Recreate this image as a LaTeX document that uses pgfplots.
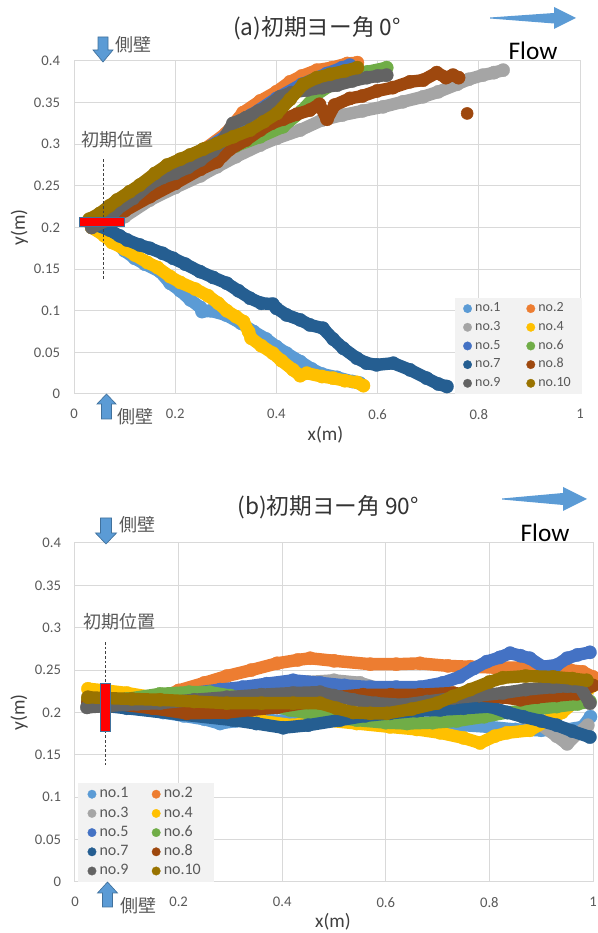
\documentclass[border=0pt]{standalone}
\usepackage{pgfplots}
\pgfplotsset{compat=1.18}
\usepackage{fontspec}
\setmainfont{Carlito}
\newfontfamily\jp{Noto Sans CJK JP}
\definecolor{c1}{HTML}{5B9BD5}
\definecolor{c2}{HTML}{ED7D31}
\definecolor{c3}{HTML}{A5A5A5}
\definecolor{c4}{HTML}{FFC000}
\definecolor{c5}{HTML}{4472C4}
\definecolor{c6}{HTML}{70AD47}
\definecolor{c7}{HTML}{255E91}
\definecolor{c8}{HTML}{9E480E}
\definecolor{c9}{HTML}{636363}
\definecolor{c10}{HTML}{997300}
\definecolor{gridc}{HTML}{D9D9D9}
\definecolor{txtc}{HTML}{595959}
\definecolor{labc}{HTML}{404040}
\definecolor{titc}{HTML}{333333}
\definecolor{arrowc}{HTML}{5B9BD5}
\definecolor{arrowb}{HTML}{41719C}
\definecolor{legbg}{HTML}{F2F2F2}
\pgfplotsset{
  traj/.style={draw=#1, fill=none, line width=9.3pt, line join=round, line cap=round,
    mark=*, mark size=5pt, mark options={solid, draw=#1, fill=#1, line width=0.2pt}},
  base/.style={
    scale only axis, clip=false, clip marker paths=true, anchor=south west,
    xmin=0, xmax=1, ymin=0, ymax=0.4,
    xtick={0,0.2,0.4,0.6,0.8,1},
    ytick={0,0.05,0.1,0.15,0.2,0.25,0.3,0.35,0.4},
    xticklabels={0,0.2,0.4,0.6,0.8,1},
    yticklabels={0,0.05,0.1,0.15,0.2,0.25,0.3,0.35,0.4},
    grid=major,
    major grid style={draw=gridc, line width=0.75pt},
    axis line style={draw=gridc, line width=0.75pt},
    major tick length=0pt,
    tick label style={text=txtc, font=\fontsize{11}{13}\selectfont},
    xticklabel style={yshift=-8pt},
    yticklabel style={xshift=-7pt},
    xlabel={x(m)}, ylabel={y(m)},
    label style={text=labc, font=\fontsize{14.5}{16}\selectfont},
    legend cell align=left,
    legend columns=2,
    legend image code/.code={\draw[##1, line width=0pt, line cap=butt, mark size=3.2pt, mark repeat=1, mark phase=1] plot coordinates {(0.12cm,0cm)};},
  }
}
\begin{document}
\begin{tikzpicture}
\useasboundingbox (0,0) rectangle (448.5pt,699.75pt);
% ---------------- panel (a)
\begin{axis}[base,
  at={(55.5pt,404.25pt)}, width=379.5pt, height=249.75pt,
  xlabel style={at={(axis description cs:0.497,-0.123)}, anchor=center},
  ylabel style={at={(axis description cs:-0.108,0.5)}, anchor=center},
  legend style={at={(0.753,0.288)}, anchor=north west, fill=legbg, draw=none,
    font=\fontsize{10.5}{12}\selectfont, text=txtc, inner xsep=6pt, inner ysep=0.7pt, row sep=0pt,
    /tikz/every even column/.append style={column sep=17pt},
    nodes={inner xsep=2.5pt, inner ysep=1.5pt, text height=8pt, text depth=3pt}},
]
\addplot[traj=c1] coordinates {(0.035,0.205) (0.06,0.196) (0.08,0.185) (0.1,0.172) (0.12,0.163) (0.14,0.156) (0.17,0.147) (0.19,0.133) (0.21,0.124) (0.23,0.113) (0.25,0.104) (0.253,0.099) (0.27,0.1) (0.3,0.095) (0.33,0.085) (0.355,0.075) (0.38,0.066) (0.4,0.057) (0.42,0.049) (0.447,0.039) (0.47,0.03) (0.49,0.024) (0.52,0.02) (0.55,0.015) (0.565,0.013)};
\addplot[traj=c2] coordinates {(0.035,0.208) (0.07,0.222) (0.1,0.235) (0.14,0.25) (0.18,0.265) (0.22,0.28) (0.26,0.295) (0.3,0.313) (0.334,0.338) (0.368,0.352) (0.4,0.363) (0.427,0.375) (0.45,0.382) (0.48,0.389) (0.51,0.392) (0.54,0.397) (0.56,0.398)};
\addplot[traj=c3] coordinates {(0.035,0.2) (0.07,0.205) (0.1,0.213) (0.15,0.233) (0.2,0.248) (0.25,0.262) (0.283,0.273) (0.32,0.285) (0.368,0.299) (0.4,0.307) (0.447,0.317) (0.49,0.329) (0.53,0.335) (0.57,0.34) (0.611,0.345) (0.65,0.351) (0.69,0.357) (0.72,0.363) (0.757,0.372) (0.78,0.378) (0.808,0.383) (0.83,0.386) (0.848,0.389)};
\addplot[traj=c4] coordinates {(0.035,0.2) (0.06,0.19) (0.075,0.182) (0.1,0.174) (0.12,0.167) (0.145,0.158) (0.165,0.152) (0.19,0.141) (0.21,0.134) (0.24,0.126) (0.265,0.118) (0.285,0.109) (0.302,0.1) (0.32,0.093) (0.335,0.087) (0.345,0.075) (0.35,0.067) (0.37,0.058) (0.393,0.049) (0.41,0.04) (0.433,0.029) (0.447,0.022) (0.46,0.025) (0.49,0.021) (0.512,0.019) (0.535,0.016) (0.559,0.014) (0.572,0.01)};
\addplot[traj=c5] coordinates {(0.035,0.208) (0.1,0.232) (0.2,0.27) (0.3,0.31) (0.35,0.335) (0.4,0.355) (0.45,0.372) (0.5,0.385) (0.53,0.392) (0.545,0.395)};
\addplot[traj=c6] coordinates {(0.035,0.205) (0.1,0.222) (0.15,0.24) (0.2,0.258) (0.25,0.275) (0.283,0.287) (0.32,0.298) (0.368,0.309) (0.413,0.321) (0.45,0.34) (0.48,0.36) (0.51,0.372) (0.545,0.383) (0.58,0.387) (0.618,0.392)};
\addplot[traj=c7] coordinates {(0.035,0.205) (0.07,0.197) (0.09,0.19) (0.105,0.185) (0.13,0.179) (0.15,0.175) (0.175,0.169) (0.196,0.163) (0.22,0.156) (0.249,0.147) (0.275,0.14) (0.302,0.133) (0.325,0.124) (0.348,0.115) (0.37,0.109) (0.393,0.108) (0.4,0.103) (0.42,0.095) (0.447,0.089) (0.466,0.083) (0.492,0.079) (0.512,0.066) (0.532,0.055) (0.559,0.043) (0.578,0.037) (0.598,0.035) (0.631,0.037) (0.664,0.029) (0.697,0.019) (0.72,0.012) (0.737,0.009)};
\addplot[traj=c8] coordinates {(0.035,0.205) (0.1,0.22) (0.15,0.237) (0.2,0.253) (0.25,0.27) (0.283,0.279) (0.308,0.294) (0.34,0.305) (0.368,0.317) (0.39,0.325) (0.413,0.33) (0.44,0.336) (0.466,0.341) (0.485,0.348) (0.5,0.33) (0.515,0.347) (0.545,0.355) (0.57,0.358) (0.599,0.364) (0.63,0.368) (0.664,0.375) (0.69,0.377) (0.717,0.386) (0.735,0.38) (0.749,0.383) (0.76,0.38)};
\addplot[traj=c9] coordinates {(0.035,0.2) (0.07,0.21) (0.085,0.222) (0.117,0.235) (0.15,0.252) (0.175,0.26) (0.2,0.265) (0.225,0.272) (0.25,0.281) (0.275,0.292) (0.295,0.305) (0.314,0.325) (0.34,0.332) (0.365,0.34) (0.381,0.345) (0.407,0.357) (0.43,0.362) (0.46,0.365) (0.49,0.368) (0.52,0.371) (0.55,0.376) (0.579,0.38) (0.6,0.382) (0.618,0.383)};
\addplot[traj=c10] coordinates {(0.03,0.21) (0.051,0.217) (0.07,0.226) (0.085,0.233) (0.11,0.243) (0.13,0.251) (0.16,0.265) (0.184,0.275) (0.21,0.282) (0.229,0.287) (0.255,0.294) (0.283,0.301) (0.315,0.309) (0.348,0.317) (0.375,0.327) (0.401,0.337) (0.427,0.354) (0.453,0.372) (0.48,0.38) (0.506,0.384) (0.535,0.388) (0.56,0.392)};
\addplot[c8, only marks, mark=*, mark size=4.5pt, forget plot] coordinates {(0.777,0.337)};
\draw[dash pattern=on 2pt off 1.5pt, line width=0.5pt, black!75] (axis cs:0.057,0.282) -- (axis cs:0.057,0.138);
\filldraw[fill=red, draw=arrowb, line width=0.75pt] (axis cs:0.01,0.2015) rectangle (axis cs:0.1,0.2125);
\legend{no.1,no.2,no.3,no.4,no.5,no.6,no.7,no.8,no.9,no.10}
\end{axis}
% ---------------- panel (b)
\begin{axis}[base,
  at={(56.25pt,38.25pt)}, width=388.5pt, height=254.25pt,
  xlabel style={at={(axis description cs:0.498,-0.118)}, anchor=center},
  ylabel style={at={(axis description cs:-0.108,0.5)}, anchor=center},
  legend style={at={(0.006,0.292)}, anchor=north west, fill=legbg, draw=none,
    font=\fontsize{12}{13}\selectfont, text=txtc, inner xsep=7pt, inner ysep=1pt, row sep=0pt,
    /tikz/every even column/.append style={column sep=15pt},
    nodes={inner xsep=2.5pt, inner ysep=1.45pt, text height=8.5pt, text depth=3pt}},
]
\addplot[traj=c1] coordinates {(0.025,0.21) (0.07,0.208) (0.12,0.205) (0.17,0.2) (0.21,0.196) (0.25,0.192) (0.28,0.187) (0.31,0.19) (0.35,0.192) (0.4,0.19) (0.45,0.19) (0.5,0.191) (0.55,0.19) (0.6,0.188) (0.65,0.185) (0.7,0.183) (0.75,0.185) (0.8,0.183) (0.85,0.18) (0.9,0.179) (0.95,0.18) (0.98,0.183) (0.995,0.195)};
\addplot[traj=c2] coordinates {(0.025,0.215) (0.07,0.214) (0.12,0.213) (0.17,0.218) (0.2,0.226) (0.25,0.235) (0.293,0.243) (0.34,0.25) (0.39,0.258) (0.43,0.262) (0.454,0.264) (0.5,0.261) (0.57,0.257) (0.62,0.257) (0.666,0.258) (0.72,0.255) (0.763,0.254) (0.81,0.253) (0.859,0.253) (0.91,0.251) (0.956,0.25) (0.98,0.248) (1.0,0.242)};
\addplot[traj=c3] coordinates {(0.025,0.21) (0.1,0.212) (0.2,0.214) (0.3,0.218) (0.4,0.23) (0.45,0.236) (0.5,0.238) (0.55,0.235) (0.6,0.226) (0.65,0.22) (0.7,0.216) (0.75,0.212) (0.8,0.205) (0.85,0.198) (0.9,0.185) (0.93,0.172) (0.95,0.163) (0.97,0.175) (0.99,0.185)};
\addplot[traj=c4] coordinates {(0.025,0.228) (0.06,0.226) (0.1,0.223) (0.15,0.218) (0.2,0.212) (0.25,0.205) (0.3,0.198) (0.36,0.19) (0.42,0.185) (0.479,0.191) (0.544,0.187) (0.608,0.183) (0.66,0.18) (0.705,0.176) (0.75,0.17) (0.782,0.164) (0.81,0.172) (0.834,0.176) (0.878,0.179) (0.91,0.19) (0.94,0.2) (0.97,0.215) (1.0,0.232)};
\addplot[traj=c5] coordinates {(0.025,0.21) (0.1,0.213) (0.15,0.216) (0.2,0.22) (0.228,0.223) (0.28,0.227) (0.324,0.23) (0.37,0.234) (0.421,0.238) (0.473,0.235) (0.52,0.232) (0.57,0.23) (0.62,0.23) (0.666,0.23) (0.71,0.235) (0.743,0.242) (0.77,0.252) (0.795,0.26) (0.82,0.265) (0.84,0.27) (0.86,0.267) (0.878,0.264) (0.903,0.254) (0.93,0.256) (0.95,0.264) (0.97,0.268) (0.994,0.271)};
\addplot[traj=c6] coordinates {(0.025,0.215) (0.1,0.216) (0.164,0.222) (0.22,0.224) (0.26,0.224) (0.3,0.22) (0.35,0.212) (0.415,0.203) (0.48,0.196) (0.544,0.191) (0.6,0.188) (0.641,0.187) (0.69,0.188) (0.737,0.19) (0.79,0.195) (0.834,0.2) (0.88,0.203) (0.93,0.207) (0.97,0.21) (0.994,0.213)};
\addplot[traj=c7] coordinates {(0.025,0.21) (0.1,0.205) (0.2,0.198) (0.305,0.191) (0.35,0.187) (0.402,0.182) (0.45,0.185) (0.511,0.191) (0.56,0.196) (0.608,0.199) (0.66,0.202) (0.705,0.203) (0.75,0.205) (0.801,0.207) (0.835,0.2) (0.865,0.195) (0.9,0.19) (0.93,0.185) (0.96,0.178) (0.994,0.171)};
\addplot[traj=c8] coordinates {(0.025,0.212) (0.08,0.21) (0.15,0.205) (0.216,0.199) (0.293,0.2) (0.34,0.203) (0.39,0.206) (0.45,0.212) (0.5,0.218) (0.556,0.221) (0.61,0.221) (0.666,0.221) (0.73,0.223) (0.78,0.22) (0.826,0.218) (0.86,0.215) (0.892,0.218) (0.93,0.22) (0.969,0.222) (1.0,0.232)};
\addplot[traj=c9] coordinates {(0.023,0.206) (0.07,0.208) (0.12,0.21) (0.164,0.211) (0.23,0.215) (0.293,0.218) (0.36,0.221) (0.421,0.223) (0.473,0.224) (0.5,0.22) (0.537,0.215) (0.58,0.211) (0.633,0.209) (0.68,0.213) (0.73,0.217) (0.78,0.22) (0.826,0.223) (0.87,0.227) (0.923,0.23) (0.95,0.231) (0.975,0.23) (0.994,0.211)};
\addplot[traj=c10] coordinates {(0.025,0.218) (0.06,0.217) (0.11,0.216) (0.164,0.215) (0.23,0.213) (0.293,0.211) (0.36,0.211) (0.421,0.211) (0.473,0.211) (0.505,0.205) (0.537,0.2) (0.57,0.199) (0.602,0.199) (0.65,0.204) (0.699,0.211) (0.73,0.219) (0.763,0.227) (0.8,0.236) (0.826,0.241) (0.87,0.243) (0.923,0.242) (0.96,0.24) (0.988,0.238)};
\draw[dash pattern=on 2pt off 1.5pt, line width=0.5pt, black!75] (axis cs:0.058,0.283) -- (axis cs:0.058,0.138);
\filldraw[fill=red, draw=arrowb, line width=0.75pt] (axis cs:0.05,0.177) rectangle (axis cs:0.068,0.234);
\legend{no.1,no.2,no.3,no.4,no.5,no.6,no.7,no.8,no.9,no.10}
\end{axis}
% ---------------- annotations (pixel coordinates)
\begin{scope}[x=0.75pt, y=-0.75pt, shift={(0pt,699.75pt)}]
\node[font=\jp\fontsize{17}{20}\selectfont, text=titc] at (317,28) {(a)初期ヨー角 0°};
\node[font=\jp\fontsize{17}{20}\selectfont, text=titc] at (328,507) {(b)初期ヨー角 90°};
\node[font=\fontsize{19}{22}\selectfont, text=black] at (533,51) {Flow};
\node[font=\fontsize{19}{22}\selectfont, text=black] at (545,533) {Flow};
\fill[arrowc] (490,17.5) -- (554,13) -- (554,7) -- (576,18) -- (554,29) -- (554,23.5) -- (490,18.5) -- cycle;
\fill[arrowc] (502,498.5) -- (563,493) -- (563,487) -- (587,499) -- (563,511) -- (563,505) -- (502,499.5) -- cycle;
\filldraw[fill=arrowc, draw=arrowb, line width=0.5pt] (98,37) -- (108,37) -- (108,50) -- (113,50) -- (103,62) -- (93,50) -- (98,50) -- cycle;
\filldraw[fill=arrowc, draw=arrowb, line width=0.5pt] (106.5,394) -- (116,404) -- (111.5,404) -- (111.5,419) -- (101.5,419) -- (101.5,404) -- (97,404) -- cycle;
\filldraw[fill=arrowc, draw=arrowb, line width=0.5pt] (100.5,518) -- (111.5,518) -- (111.5,533) -- (116.5,533) -- (106,544) -- (95.5,533) -- (100.5,533) -- cycle;
\filldraw[fill=arrowc, draw=arrowb, line width=0.5pt] (107.5,882) -- (117.5,893) -- (112.5,893) -- (112.5,907) -- (102.5,907) -- (102.5,893) -- (97.5,893) -- cycle;
\node[font=\jp\fontsize{13.5}{15}\selectfont, text=txtc] at (133,45) {側壁};
\node[font=\jp\fontsize{13.5}{15}\selectfont, text=txtc] at (135,417) {側壁};
\node[font=\jp\fontsize{13.5}{15}\selectfont, text=txtc] at (137,525) {側壁};
\node[font=\jp\fontsize{13.5}{15}\selectfont, text=txtc] at (138,906) {側壁};
\node[font=\jp\fontsize{13.5}{15}\selectfont, text=txtc] at (117,140) {初期位置};
\node[font=\jp\fontsize{13.5}{15}\selectfont, text=txtc] at (119,622) {初期位置};
\end{scope}
\end{tikzpicture}
\end{document}
